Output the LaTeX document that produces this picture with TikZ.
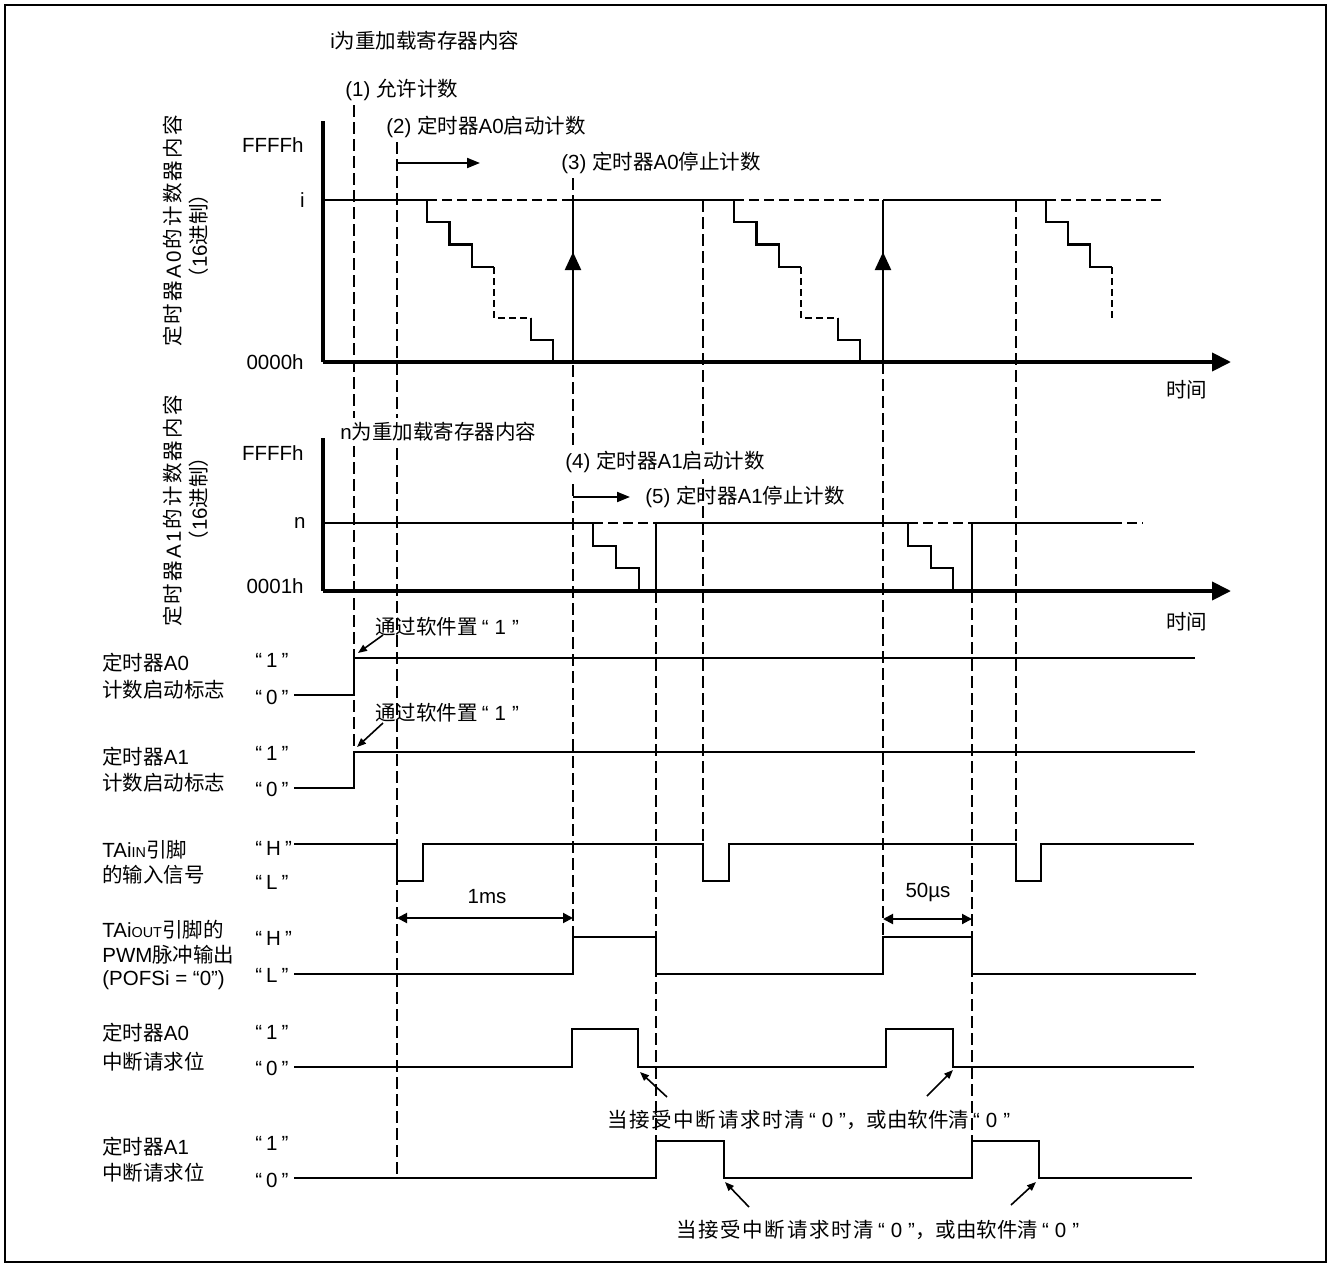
\documentclass[tikz,border=0pt]{standalone}
\usepackage{fontspec}
\setmainfont{Liberation Sans}
\newfontfamily\cjk{Noto Sans CJK SC}
\newfontfamily\cjksp[LetterSpace=11]{Noto Sans CJK SC}
\newfontfamily\cjkls[LetterSpace=8]{Noto Sans CJK SC}
\newfontfamily\latsp[LetterSpace=11]{Liberation Sans}
\usetikzlibrary{arrows.meta}
\newcommand\zh[1]{{\cjk #1}}
\newcommand\zs[1]{{\cjksp #1}}
\newcommand\zl[1]{{\cjkls #1}}
\newcommand\qq[1]{“\kern2pt#1\kern2pt”}
\newcommand\qqb[1]{\kern2pt“\kern3pt#1\kern3pt”}
\newcommand\smc[1]{{\fontsize{7.2}{8}\selectfont #1}}
\newcommand\fs{\fontsize{10.25}{12}\selectfont}
\begin{document}
\begin{tikzpicture}[x=0.5pt,y=-0.5pt,
  txt/.style={inner sep=0pt, font=\fs},
  wave/.style={line width=1.3pt, line join=miter},
  stair/.style={line width=1.1pt},
  axisln/.style={line width=2pt},
  guide/.style={line width=0.7pt, dash pattern=on 6pt off 2.5pt},
  ldash/.style={line width=0.9pt, dash pattern=on 5pt off 2.5pt},
  sdash/.style={line width=0.9pt, dash pattern=on 3.5pt off 2pt},
  harrow/.style={line width=1pt, -{Triangle[length=6.5pt,width=5pt]}},
  vhead/.style={line width=1.1pt, -{Triangle[length=9pt,width=8pt]}},
  axhead/.style={-{Triangle[length=9.5pt,width=9pt]}},
  dimarr/.style={line width=1pt, {Triangle[length=5pt,width=5pt]}-{Triangle[length=5pt,width=5pt]}},
  ptr/.style={line width=0.8pt, -{Triangle[length=4.5pt,width=3.5pt]}}]
\useasboundingbox (0,0) rectangle (1330,1264);
\draw[line width=0.9pt] (5,5) rectangle (1326,1262);

% ---------- guide lines ----------
\draw[guide] (354,105) -- (354,752);
\draw[guide] (397,142) -- (397,1178);
\draw[guide] (573,178) -- (573,937);
\draw[guide] (703,200) -- (703,844);
\draw[guide] (656,591) -- (656,1141);
\draw[guide] (883,362) -- (883,937);
\draw[guide] (972,591) -- (972,1141);
\draw[guide] (1016,200) -- (1016,844);

% ---------- top chart texts ----------
\node[txt, anchor=west] (ti) at (330,41) {i\zh{为重加载寄存器内容}};
\node[txt, anchor=west] (t1) at (345,90) {(1) \zh{允许计数}};
\node[txt, anchor=west] (t2) at (386,127) {(2) \zh{定时器}A0\zh{启动计数}};
\node[txt, anchor=west] (t3) at (561,163) {(3) \zh{定时器}A0\zh{停止计数}};
\node[txt, anchor=east] (fa) at (304,145) {FFFFh};
\node[txt, anchor=east] (ia) at (305,200) {i};
\node[txt, anchor=east] (za) at (304,362) {0000h};
\node[txt, anchor=west] (tma) at (1166,390) {\zh{时间}};
\node[txt, rotate=90] (ya1) at (173,231) {\zs{定时器}\kern1pt{\latsp A0}\kern1pt\zs{的计数器内容}};
\node[txt, rotate=90] (ya2) at (199,236) {\zh{（}16\zh{进制）}};

% ---------- top chart ----------
\draw[axisln] (323,121) -- (323,362);
\draw[axisln, axhead] (323,362) -- (1231,362);
\draw[stair] (323,200) -- (427,200) -- (427,222) -- (449.5,222) -- (449.5,244.5) -- (472,244.5) -- (472,267) -- (494,267);
\draw[sdash] (494,267) -- (494,318) -- (531,318);
\draw[stair] (531,318) -- (531,340) -- (553,340) -- (553,362);
\draw[ldash] (427,200) -- (573,200);
\draw[stair] (573,200) -- (734,200) -- (734,222) -- (756.5,222) -- (756.5,244.5) -- (779,244.5) -- (779,267) -- (801,267);
\draw[sdash] (801,267) -- (801,318) -- (838,318);
\draw[stair] (838,318) -- (838,340) -- (860,340) -- (860,362);
\draw[ldash] (734,200) -- (883,200);
\draw[stair] (883,200) -- (1046,200) -- (1046,222) -- (1068,222) -- (1068,244.5) -- (1090,244.5) -- (1090,267) -- (1112,267);
\draw[sdash] (1112,267) -- (1112,318);
\draw[ldash] (1046,200) -- (1161,200);
\draw[vhead] (573,362) -- (573,252);
\draw[stair] (573,254) -- (573,200);
\draw[vhead] (883,362) -- (883,252);
\draw[stair] (883,254) -- (883,200);
\coordinate (s2) at (397,163);
\coordinate (e2) at (480,163);
\draw[harrow] (s2) -- (e2);

% ---------- middle chart texts ----------
\node[txt, anchor=west, fill=white, inner ysep=2pt] (tn) at (340,432) {n\zh{为重加载寄存器内容}};
\node[txt, anchor=west, fill=white, inner ysep=3pt] (t4) at (565,462) {(4) \zh{定时器}A1\zh{启动计数}};
\node[txt, anchor=west] (t5) at (645,497) {(5) \zh{定时器}A1\zh{停止计数}};
\node[txt, anchor=east] (fb) at (304,453) {FFFFh};
\node[txt, anchor=east] (nb) at (306,523) {n};
\node[txt, anchor=east] (zb) at (304,586) {0001h};
\node[txt, anchor=west] (tmb) at (1166,622) {\zh{时间}};
\node[txt, rotate=90] (yb1) at (173,511) {\zs{定时器}\kern1pt{\latsp A1}\kern1pt\zs{的计数器内容}};
\node[txt, rotate=90] (yb2) at (199,499) {\zh{（}16\zh{进制）}};

% ---------- middle chart ----------
\draw[axisln] (323,438) -- (323,591);
\draw[axisln, axhead] (323,591) -- (1231,591);
\draw[stair] (323,523) -- (593,523) -- (593,546) -- (616,546) -- (616,568) -- (639,568) -- (639,591);
\draw[ldash] (593,523) -- (656,523);
\draw[stair] (656,591) -- (656,523) -- (908,523) -- (908,546) -- (931,546) -- (931,568) -- (953,568) -- (953,591);
\draw[ldash] (908,523) -- (972,523);
\draw[stair] (972,591) -- (972,523) -- (1112,523);
\draw[ldash] (1112,523) -- (1143,523);
\coordinate (s4) at (573,497);
\coordinate (e4) at (630,497);
\draw[harrow] (s4) -- (e4);

% ---------- A0 count start flag ----------
\node[txt, anchor=west] (fa1) at (102,663) {\zh{定时器}A0};
\node[txt, anchor=west] (fa2) at (102,690) {\zh{计数启动标志}};
\node[txt, anchor=west] (fa1v) at (255,660) {\qq{1}};
\node[txt, anchor=west] (fa0v) at (255,697) {\qq{0}};
\node[txt, anchor=west] (swa) at (375,627) {\zh{通过软件置}\qqb{1}};
\draw[wave] (294,695) -- (354,695) -- (354,658) -- (1195,658);
\coordinate (pa0) at (383,635);
\coordinate (qa0) at (358,653);
\draw[ptr] (pa0) -- (qa0);

% ---------- A1 count start flag ----------
\node[txt, anchor=west] (fb1) at (102,757) {\zh{定时器}A1};
\node[txt, anchor=west] (fb2) at (102,783) {\zh{计数启动标志}};
\node[txt, anchor=west] (fb1v) at (255,753) {\qq{1}};
\node[txt, anchor=west] (fb0v) at (255,789) {\qq{0}};
\node[txt, anchor=west] (swb) at (375,713) {\zh{通过软件置}\qqb{1}};
\draw[wave] (294,788) -- (354,788) -- (354,752) -- (1195,752);
\coordinate (pb0) at (383,723);
\coordinate (qb0) at (357,747);
\draw[ptr] (pb0) -- (qb0);

% ---------- TAiIN ----------
\node[txt, anchor=west] (in1) at (102,850) {TAi\smc{IN}\zh{引脚}};
\node[txt, anchor=west] (in2) at (102,875) {\zh{的输入信号}};
\node[txt, anchor=west] (inh) at (255,848) {\qq{H}};
\node[txt, anchor=west] (inl) at (255,882) {\qq{L}};
\draw[wave] (294,844) -- (397,844) -- (397,881) -- (423,881) -- (423,844) -- (703,844) -- (703,881) -- (729,881) -- (729,844) -- (1016,844) -- (1016,881) -- (1041,881) -- (1041,844) -- (1194,844);

% ---------- dimensions ----------
\node[txt] (ms) at (487,897) {1ms};
\node[txt] (us) at (928,892) {50µs};
\coordinate (d1a) at (397,918);
\coordinate (d1b) at (573,918);
\coordinate (d2a) at (883,919);
\coordinate (d2b) at (972,919);
\draw[dimarr] (d1a) -- (d1b);
\draw[dimarr] (d2a) -- (d2b);

% ---------- PWM output ----------
\node[txt, anchor=west] (pw1) at (102,930) {TAi\smc{OUT}\zh{引脚的}};
\node[txt, anchor=west] (pw2) at (102,955) {PWM\zh{脉冲输出}};
\node[txt, anchor=west] (pw3) at (102,980) {(POFSi = “0”)};
\node[txt, anchor=west] (pwh) at (255,938) {\qq{H}};
\node[txt, anchor=west] (pwl) at (255,975) {\qq{L}};
\draw[wave] (294,974) -- (573,974) -- (573,937) -- (656,937) -- (656,974) -- (883,974) -- (883,937) -- (972,937) -- (972,974) -- (1196,974);

% ---------- A0 interrupt request ----------
\node[txt, anchor=west] (ia1) at (102,1033) {\zh{定时器}A0};
\node[txt, anchor=west] (ia2) at (102,1062) {\zh{中断请求位}};
\node[txt, anchor=west] (ia1v) at (255,1032) {\qq{1}};
\node[txt, anchor=west] (ia0v) at (255,1068) {\qq{0}};
\draw[wave] (294,1067) -- (572,1067) -- (572,1029) -- (638,1029) -- (638,1067) -- (886,1067) -- (886,1029) -- (953,1029) -- (953,1067) -- (1194,1067);
\node[txt, anchor=west] (clra) at (607,1120) {\zl{当接受中断请求时清}\qqb{0}\zh{，或由软件清}\qqb{0}};
\coordinate (pa1) at (667,1097);
\coordinate (qa1) at (640,1072);
\coordinate (pa2) at (927,1096);
\coordinate (qa2) at (953,1070);
\draw[ptr] (pa1) -- (qa1);
\draw[ptr] (pa2) -- (qa2);

% ---------- A1 interrupt request ----------
\node[txt, anchor=west] (ib1) at (102,1147) {\zh{定时器}A1};
\node[txt, anchor=west] (ib2) at (102,1173) {\zh{中断请求位}};
\node[txt, anchor=west] (ib1v) at (255,1143) {\qq{1}};
\node[txt, anchor=west] (ib0v) at (255,1180) {\qq{0}};
\draw[wave] (294,1178) -- (656,1178) -- (656,1141) -- (724,1141) -- (724,1178) -- (972,1178) -- (972,1141) -- (1039,1141) -- (1039,1178) -- (1192,1178);
\node[txt, anchor=west] (clrb) at (676,1230) {\zl{当接受中断请求时清}\qqb{0}\zh{，或由软件清}\qqb{0}};
\coordinate (pb1) at (749,1207);
\coordinate (qb1) at (725,1182);
\coordinate (pb2) at (1011,1205);
\coordinate (qb2) at (1036,1182);
\draw[ptr] (pb1) -- (qb1);
\draw[ptr] (pb2) -- (qb2);
\end{tikzpicture}
\end{document}
